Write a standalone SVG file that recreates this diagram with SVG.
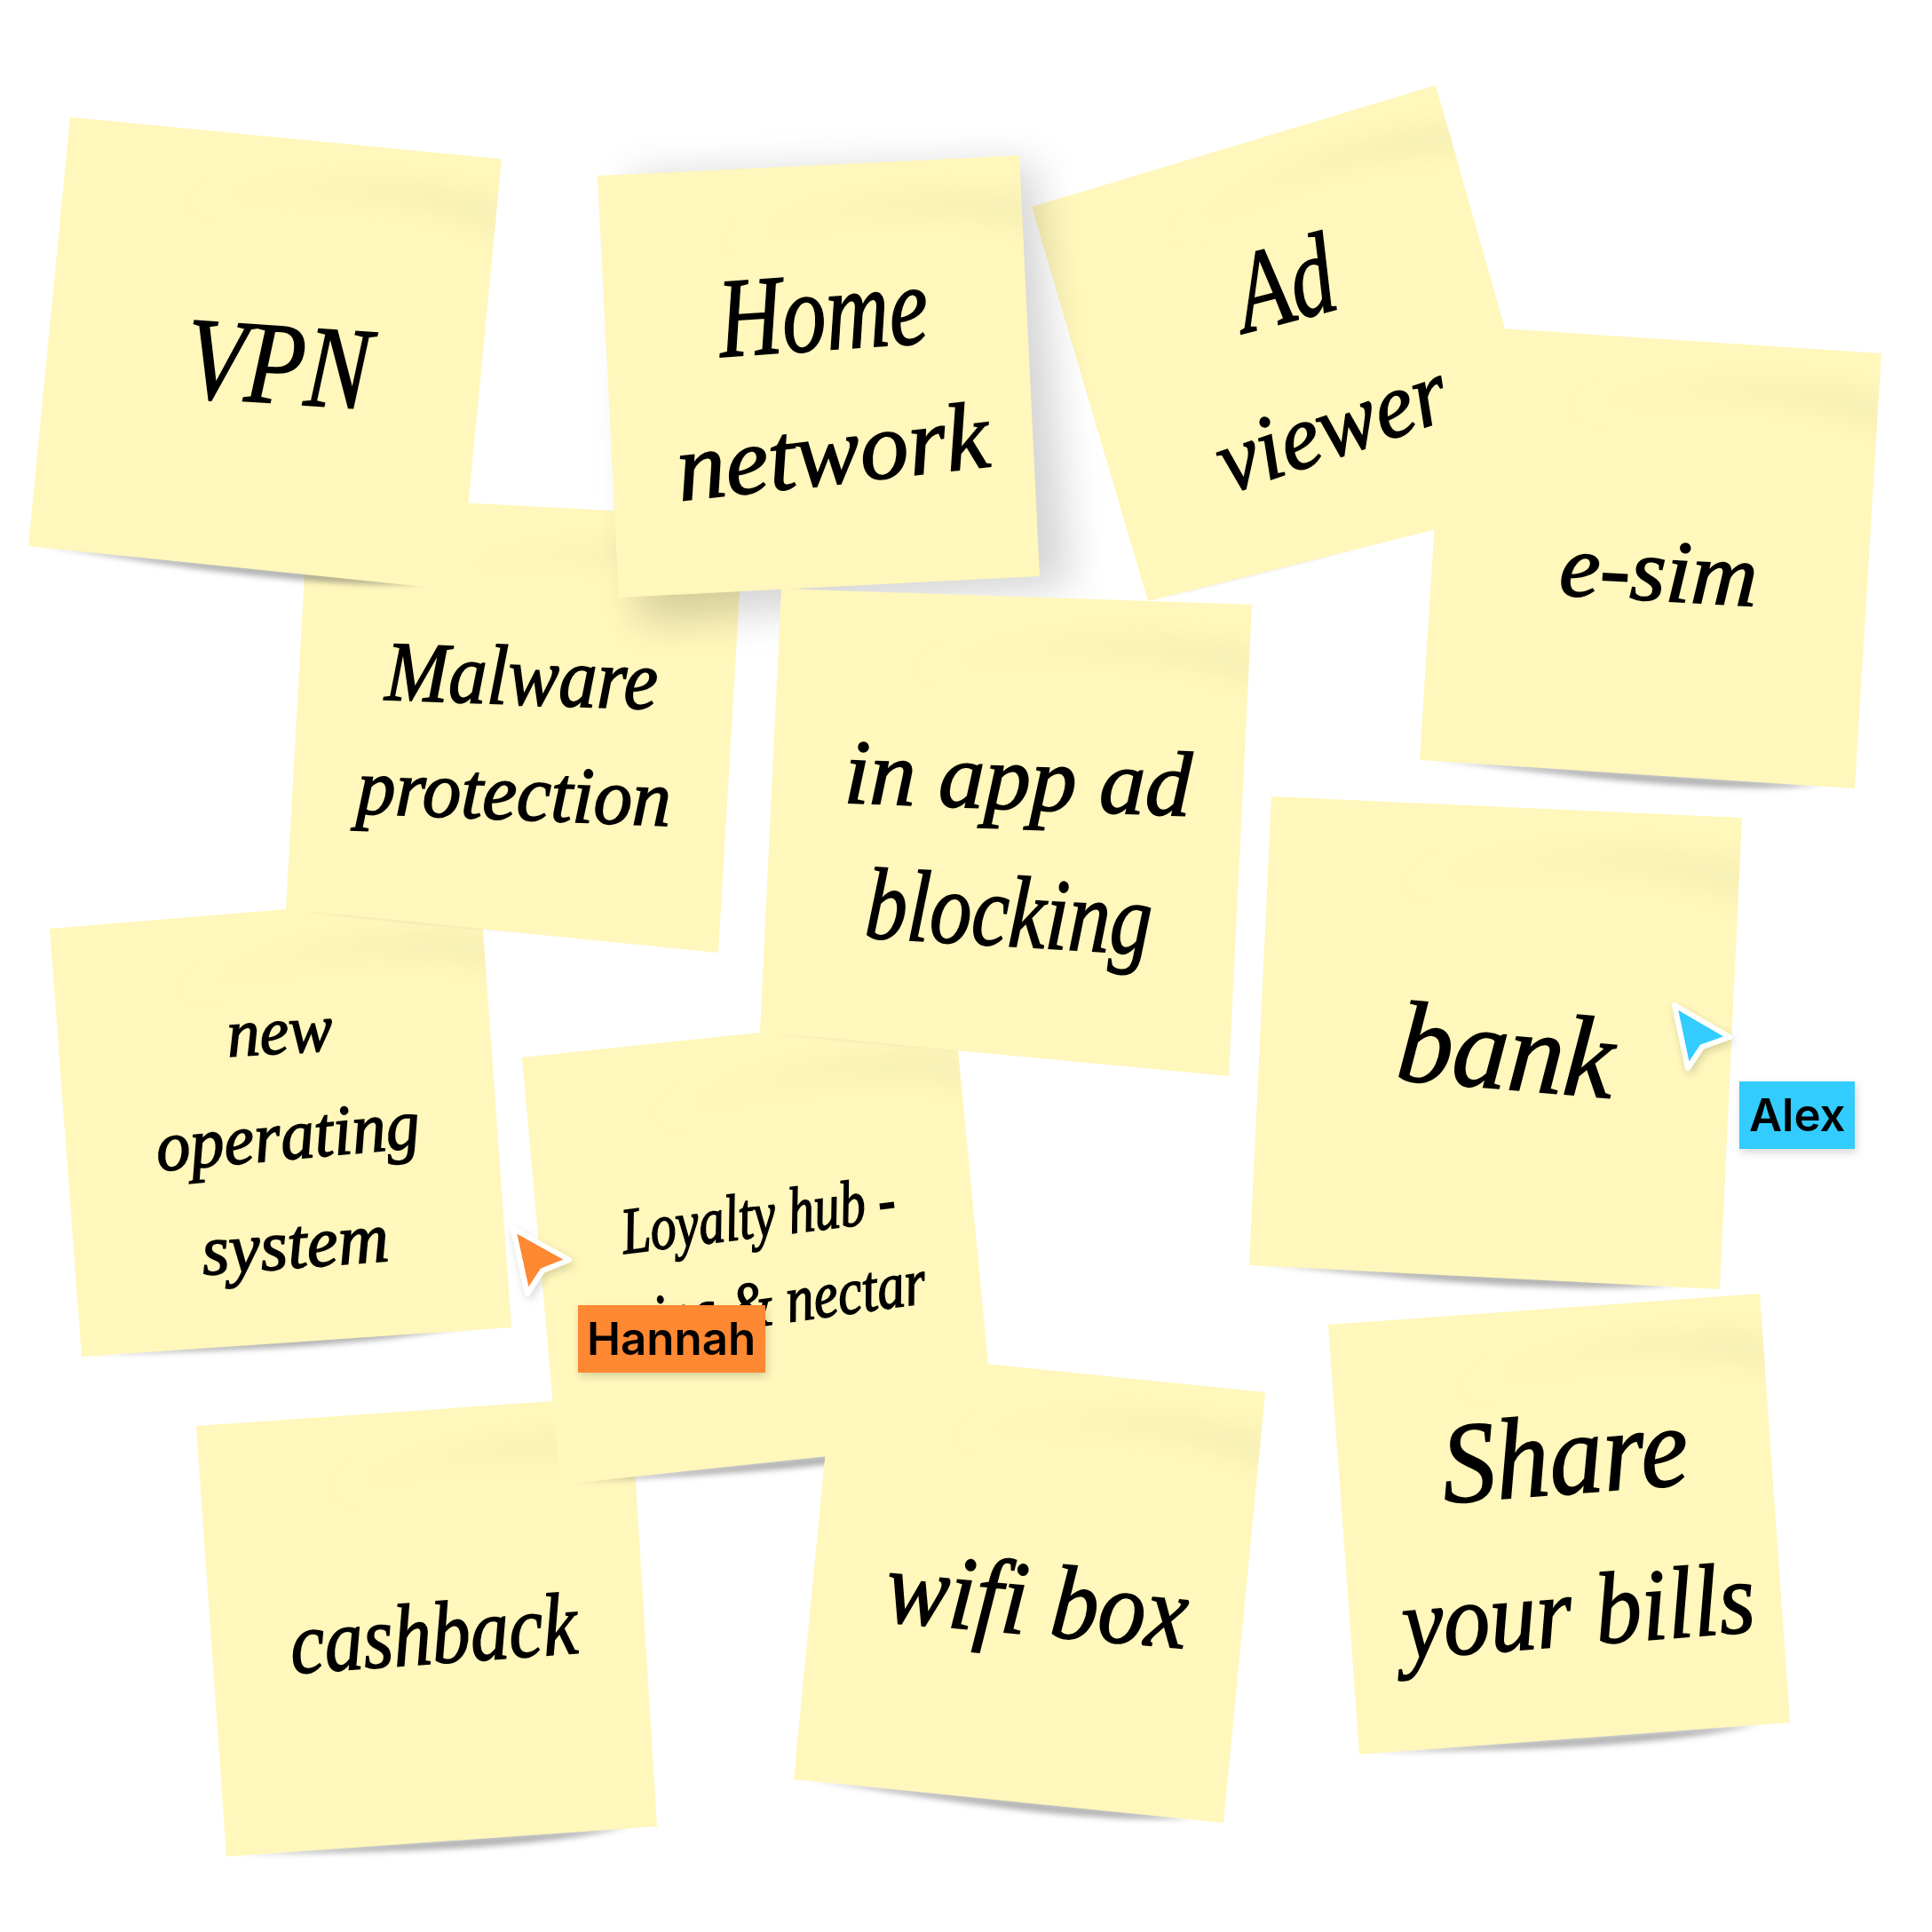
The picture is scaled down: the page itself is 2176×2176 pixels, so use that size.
<svg xmlns="http://www.w3.org/2000/svg" width="2176" height="2176" viewBox="0 0 2176 2176">
<style>
.paper{fill:#fff7bb}
.hand{font-family:"Liberation Serif",serif;font-style:italic;fill:#000;stroke:#000;stroke-width:1.6;paint-order:stroke}
.tag{font-family:Inter,"Liberation Sans",sans-serif;font-weight:600;font-size:51px;fill:#000}
.cur{stroke:#fff;stroke-width:6;stroke-linejoin:round}
</style>
<defs>
<filter id="b4" x="-20%" y="-100%" width="140%" height="300%"><feGaussianBlur stdDeviation="3"/></filter>
<filter id="b14" x="-30%" y="-100%" width="160%" height="300%"><feGaussianBlur stdDeviation="14"/></filter>
<filter id="b28" x="-30%" y="-30%" width="160%" height="160%"><feGaussianBlur stdDeviation="24"/></filter>
<filter id="soft" x="-30%" y="-30%" width="170%" height="170%"><feDropShadow dx="2" dy="4" stdDeviation="5" flood-color="#000" flood-opacity=".16"/></filter>
<clipPath id="sq"><rect width="488" height="488"/></clipPath>
<linearGradient id="fg" x1="0" x2="1" y1="0" y2="0"><stop offset="0" stop-color="#efe8ae" stop-opacity="0"/><stop offset=".55" stop-color="#efe8ae" stop-opacity=".5"/><stop offset="1" stop-color="#efe8ae" stop-opacity=".55"/></linearGradient>
<path id="shadow" d="M14 486C150 494 340 506 452 486Z" fill="#666" opacity=".5" filter="url(#b4)"/>
<g id="fold" clip-path="url(#sq)"><path d="M130 92C240 58 380 44 500 90L500 48C390 26 240 40 130 92Z" fill="url(#fg)" filter="url(#b14)"/></g>
</defs>

<g id="connectors"/>

<g id="note-cashback">
<use href="#shadow" transform="matrix(1.002 -.07 .07 .994 221 1606)"/>
<polygon class="paper" points="221,1606 710,1572 740,2057 255,2091"/>
<use href="#fold" transform="matrix(1.002 -.07 .07 .994 221 1606)"/>
<text class="hand" font-size="100" textLength="324" lengthAdjust="spacingAndGlyphs" transform="translate(329 1885) rotate(-4.1)">cashback</text>
</g>

<g id="note-loyalty">
<use href="#shadow" transform="matrix(.998 -.105 .088 .986 588 1191)"/>
<polygon class="paper" points="588,1191 1075,1140 1121,1620 631,1672"/>
<use href="#fold" transform="matrix(.998 -.105 .088 .986 588 1191)"/>
<text class="hand" font-size="74" textLength="310" lengthAdjust="spacingAndGlyphs" transform="translate(703 1412) rotate(-7)">Loyalty hub -</text>
<text class="hand" font-size="74" textLength="369" lengthAdjust="spacingAndGlyphs" transform="translate(680 1518) rotate(-7.9)">avios &amp; nectar</text>
</g>

<g id="note-wifi">
<use href="#shadow" transform="matrix(.992 .1 -.096 .994 941 1519)"/>
<polygon class="paper" points="941,1519 1425,1568 1378,2053 894,2004"/>
<use href="#fold" transform="matrix(.992 .1 -.096 .994 941 1519)"/>
<text class="hand" font-size="118" textLength="341" lengthAdjust="spacingAndGlyphs" transform="translate(995 1826) rotate(5.2)">wifi box</text>
</g>

<g id="note-share">
<use href="#shadow" transform="matrix(.996 -.072 .072 .992 1496 1492)"/>
<polygon class="paper" points="1496,1492 1982,1457 2016,1940 1531,1976"/>
<use href="#fold" transform="matrix(.996 -.072 .072 .992 1496 1492)"/>
<text class="hand" font-size="130" textLength="278" lengthAdjust="spacingAndGlyphs" transform="translate(1627 1693) rotate(-4.4)">Share</text>
<text class="hand" font-size="115" textLength="398" lengthAdjust="spacingAndGlyphs" transform="translate(1582 1868) rotate(-4.4)">your bills</text>
</g>

<g id="note-bank">
<use href="#shadow" transform="matrix(1.086 .049 -.051 1.082 1432 897)"/>
<polygon class="paper" points="1432,897 1962,921 1937,1452 1407,1425"/>
<use href="#fold" transform="matrix(1.086 .049 -.051 1.082 1432 897)"/>
<text class="hand" font-size="130" textLength="244" lengthAdjust="spacingAndGlyphs" transform="translate(1571 1216) rotate(4.9)">bank</text>
</g>

<g id="note-newos">
<use href="#shadow" transform="matrix(.994 -.082 .074 .988 56 1046)"/>
<polygon class="paper" points="56,1046 541,1006 576,1495 92,1528"/>
<use href="#fold" transform="matrix(.994 -.082 .074 .988 56 1046)"/>
<text class="hand" font-size="76" textLength="119" lengthAdjust="spacingAndGlyphs" transform="translate(257 1190) rotate(-3.4)">new</text>
<text class="hand" font-size="80" textLength="298" lengthAdjust="spacingAndGlyphs" transform="translate(178 1319) rotate(-5.2)">operating</text>
<text class="hand" font-size="80" textLength="211" lengthAdjust="spacingAndGlyphs" transform="translate(229 1436) rotate(-4.4)">system</text>
</g>

<g id="note-malware">
<use href="#shadow" transform="matrix(1.004 .053 -.053 .957 348 557)"/>
<polygon class="paper" points="348,557 838,583 809,1073 322,1024"/>
<use href="#fold" transform="matrix(1.004 .053 -.053 .957 348 557)"/>
<text class="hand" font-size="96" textLength="307" lengthAdjust="spacingAndGlyphs" transform="translate(433 788) rotate(2.05)">Malware</text>
<text class="hand" font-size="90" textLength="354" lengthAdjust="spacingAndGlyphs" transform="translate(401 916) rotate(2.3)">protection</text>
</g>

<g id="note-vpn">
<use href="#shadow" transform="matrix(.996 .096 -.096 .99 79 132)"/>
<polygon class="paper" points="79,132 565,179 518,665 32,615"/>
<use href="#fold" transform="matrix(.996 .096 -.096 .99 79 132)"/>
<text class="hand" font-size="132" textLength="208" lengthAdjust="spacingAndGlyphs" transform="translate(207 447) rotate(3.85)">VPN</text>
</g>

<g id="note-ad">
<use href="#shadow" transform="matrix(.932 -.281 .268 .91 1162 233)"/>
<polygon class="paper" points="1162,233 1617,96 1750,563 1293,677"/>
<use href="#fold" transform="matrix(.932 -.281 .268 .91 1162 233)"/>
<text class="hand" font-size="130" textLength="112" lengthAdjust="spacingAndGlyphs" transform="translate(1403 375) rotate(-14.5)">Ad</text>
<text class="hand" font-size="104" textLength="268" lengthAdjust="spacingAndGlyphs" transform="translate(1384 556) rotate(-18.7)">viewer</text>
</g>

<g id="note-home">
<polygon points="710,200 1165,185 1205,660 720,700" fill="#000" opacity=".17" filter="url(#b28)"/>
<polygon class="paper" points="673,198 1148,175 1171,649 697,673"/>
<use href="#fold" transform="matrix(.973 -.047 .049 .973 673 198)"/>
<text class="hand" font-size="128" textLength="236" lengthAdjust="spacingAndGlyphs" transform="translate(812 402) rotate(-3.9)">Home</text>
<text class="hand" font-size="108" textLength="353" lengthAdjust="spacingAndGlyphs" transform="translate(766 564) rotate(-6.3)">network</text>
</g>

<g id="note-inapp">
<use href="#shadow" transform="matrix(1.086 .037 -.049 1.023 880 663)"/>
<polygon class="paper" points="880,663 1410,681 1384,1212 856,1162"/>
<use href="#fold" transform="matrix(1.086 .037 -.049 1.023 880 663)"/>
<text class="hand" font-size="104" textLength="391" lengthAdjust="spacingAndGlyphs" transform="translate(950 904) rotate(2.2)">in app ad</text>
<text class="hand" font-size="115" textLength="323" lengthAdjust="spacingAndGlyphs" transform="translate(973 1056) rotate(3.4)">blocking</text>
</g>

<g id="note-esim">
<use href="#shadow" transform="matrix(1.002 .066 -.064 1.004 1630 366)"/>
<polygon class="paper" points="1630,366 2119,398 2089,888 1599,856"/>
<use href="#fold" transform="matrix(1.002 .066 -.064 1.004 1630 366)"/>
<text class="hand" font-size="100" textLength="223" lengthAdjust="spacingAndGlyphs" transform="translate(1755 670) rotate(3.3)">e-sim</text>
</g>

<g id="cursor-hannah">
<polygon class="cur" fill="#ff8833" points="578,1384 641,1419 611,1431 594,1457" filter="url(#soft)"/>
<rect x="651" y="1470" width="211" height="76" fill="#ff8833" filter="url(#soft)"/>
<text class="tag" x="661" y="1526">Hannah</text>
</g>

<g id="cursor-alex">
<polygon class="cur" fill="#33ccff" points="1886,1132 1948,1168 1917,1179 1901,1203" filter="url(#soft)"/>
<rect x="1959" y="1218" width="130" height="76" fill="#33ccff" filter="url(#soft)"/>
<text class="tag" x="1970" y="1274">Alex</text>
</g>
</svg>
